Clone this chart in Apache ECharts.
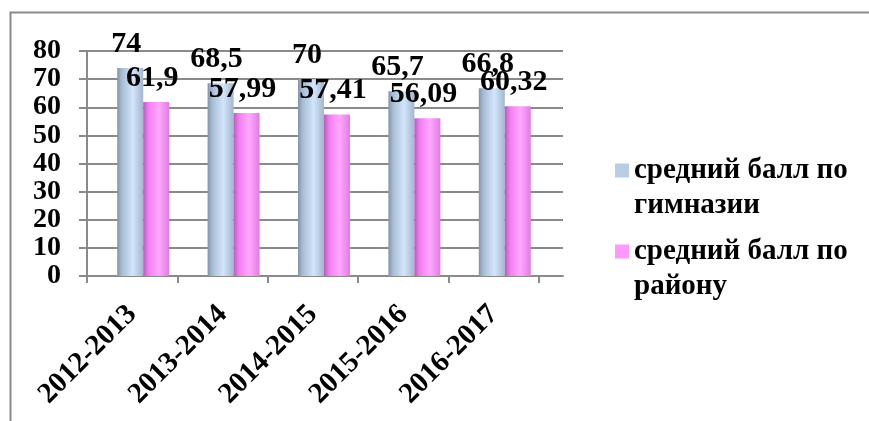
<!DOCTYPE html>
<html><head><meta charset="utf-8">
<script src="https://cdn.jsdelivr.net/npm/echarts@6/dist/echarts.min.js"></script>
<style>html,body{margin:0;padding:0;background:#fff}#c{width:869px;height:421px}</style>
</head><body><div id="c"></div>
<script>
const categories = ['2012-2013','2013-2014','2014-2015','2015-2016','2016-2017'];
const gymnasium = [74, 68.5, 70, 65.7, 66.8];
const district = [61.9, 57.99, 57.41, 56.09, 60.32];
const seriesNames = ['средний балл по гимназии','средний балл по району'];
const legendLines = {'средний балл по гимназии':'средний балл по\nгимназии','средний балл по району':'средний балл по\nрайону'};

const font = '"Liberation Serif","Times New Roman",serif';
const grey = '#8a8a8a';
const chart = echarts.init(document.getElementById('c'));
function grad(stops){return new echarts.graphic.LinearGradient(0,0,1,0,stops.map(c=>({offset:c[0],color:c[1]})));}
const blueFill = grad([[0,'#8193a8'],[0.18,'#a8bdd5'],[0.6,'#d2e5fb'],[1,'#a2b6cf']]);
const pinkFill = grad([[0,'#b85cb8'],[0.2,'#f07ef0'],[0.6,'#ffa8ff'],[1,'#e27be2']]);
const fmt = p => String(p.value).replace('.', ',');
const lblStyle = {show:true,position:'top',distance:9,offset:[-4,0],fontFamily:font,fontWeight:'bold',fontSize:30,color:'#000',formatter:fmt};
const legendText = {fontFamily:font,fontWeight:'bold',fontSize:29,lineHeight:35,color:'#000'};

chart.setOption({
  animation:false,
  graphic:[{type:'polyline',shape:{points:[[10.5,421],[10.5,12.5],[869,12.5]]},style:{stroke:grey,lineWidth:2,fill:null}}],
  grid:[
    {left:87,top:51,width:476,height:225},
    {left:87,top:51,width:452,height:225},
    {left:98,top:51,width:452,height:225}
  ],
  xAxis:[
    {gridIndex:0,type:'category',data:categories,axisLine:{lineStyle:{color:grey,width:2}},axisTick:{show:false},axisLabel:{show:false}},
    {gridIndex:1,type:'category',data:categories,axisLine:{show:false},axisTick:{show:true,length:7,lineStyle:{color:grey,width:2}},
     axisLabel:{rotate:45,margin:34,fontFamily:font,fontWeight:'bold',fontSize:29,color:'#000'}},
    {gridIndex:2,type:'category',data:categories,show:false}
  ],
  yAxis:[
    {gridIndex:0,type:'value',min:0,max:80,interval:10,
     axisLine:{show:true,lineStyle:{color:grey,width:2}},axisTick:{show:true,length:8,lineStyle:{color:grey,width:2}},
     splitLine:{lineStyle:{color:grey,width:2}},
     axisLabel:{margin:26,fontFamily:font,fontWeight:'bold',fontSize:28,color:'#000'}},
    {gridIndex:1,type:'value',min:0,max:80,interval:10,show:false,splitLine:{show:false}},
    {gridIndex:2,type:'value',min:0,max:80,interval:10,show:false,splitLine:{show:false}}
  ],
  legend:[
    {data:[{name:seriesNames[0],itemStyle:{color:'#b9cde5'}}],orient:'vertical',left:610,top:113,itemWidth:14,itemHeight:14,icon:'rect',
     formatter:n=>'\n'+legendLines[n],textStyle:legendText},
    {data:[{name:seriesNames[1],itemStyle:{color:'#ff99ff'}}],orient:'vertical',left:610,top:194,itemWidth:14,itemHeight:14,icon:'rect',
     formatter:n=>'\n'+legendLines[n],textStyle:legendText}
  ],
  series:[
    {name:seriesNames[0],type:'bar',xAxisIndex:2,yAxisIndex:2,data:gymnasium,barWidth:26,barGap:'0%',
     itemStyle:{color:blueFill},label:lblStyle},
    {name:seriesNames[1],type:'bar',xAxisIndex:2,yAxisIndex:2,data:district,barWidth:26,barGap:'0%',
     itemStyle:{color:pinkFill},label:lblStyle}
  ]
});
</script></body></html>
